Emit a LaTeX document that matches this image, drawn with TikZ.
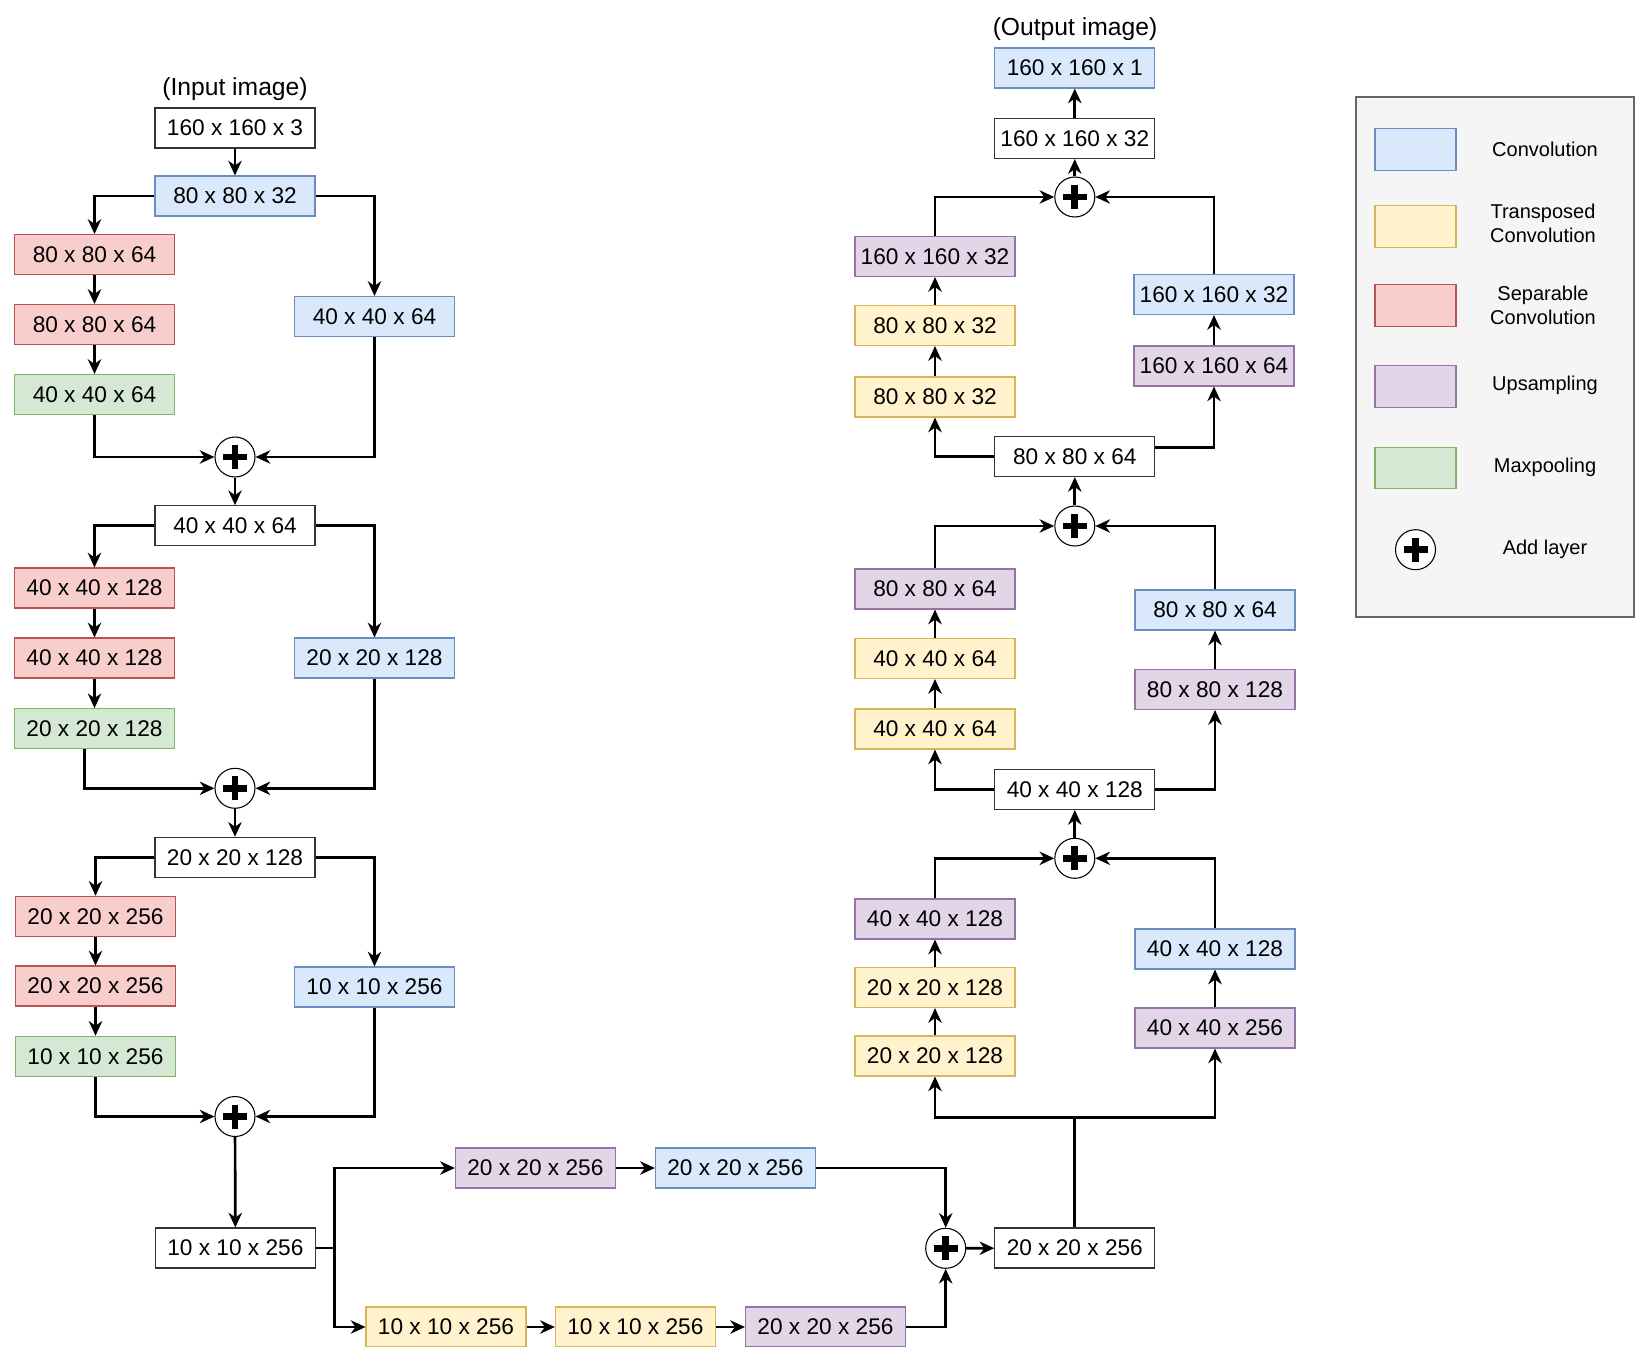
\documentclass[tikz,border=0pt]{standalone}
\usepackage{fontspec}
\setmainfont{Liberation Sans}
\usetikzlibrary{arrows.meta}
\definecolor{bluefill}{HTML}{DAE8FC}\definecolor{bluedraw}{HTML}{6C8EBF}
\definecolor{yelfill}{HTML}{FFF2CC}\definecolor{yeldraw}{HTML}{D6B656}
\definecolor{redfill}{HTML}{F8CECC}\definecolor{reddraw}{HTML}{B85450}
\definecolor{purfill}{HTML}{E1D5E7}\definecolor{purdraw}{HTML}{9673A6}
\definecolor{grnfill}{HTML}{D5E8D4}\definecolor{grndraw}{HTML}{82B366}
\definecolor{boxgray}{HTML}{333333}
\definecolor{legfill}{HTML}{F5F5F5}\definecolor{legdraw}{HTML}{666666}
\begin{document}
\begin{tikzpicture}[x=0.75pt,y=-0.75pt,
  lyr/.style={draw=#1, minimum width=120pt, minimum height=30pt, inner sep=0pt, line width=0.8pt, font=\fontsize{17}{20}\selectfont},
  conv/.style={lyr=bluedraw, fill=bluefill},
  tconv/.style={lyr=yeldraw, fill=yelfill},
  sconv/.style={lyr=reddraw, fill=redfill},
  upsm/.style={lyr=purdraw, fill=purfill},
  mpool/.style={lyr=grndraw, fill=grnfill},
  plain/.style={lyr=boxgray, fill=white},
  swatch/.style={draw=#1, minimum width=60.75pt, minimum height=31pt, inner sep=0pt, line width=0.8pt},
  legtext/.style={font=\fontsize{15}{18}\selectfont, align=center},
  lbl/.style={font=\fontsize{18.5}{21}\selectfont},
  addl/.style={circle, draw, fill=white, line width=0.8pt, minimum size=30pt, inner sep=0pt,
    path picture={
      \draw[line width=5pt] ([xshift=-9pt]path picture bounding box.center) -- ([xshift=9pt]path picture bounding box.center);
      \draw[line width=5pt] ([yshift=-9pt]path picture bounding box.center) -- ([yshift=9pt]path picture bounding box.center);
    }},
  conn/.style={line width=2pt, -{Stealth[length=11pt,width=10pt,inset=3.5pt]}},
  wire/.style={line width=2pt},
]
\useasboundingbox (0,0) rectangle (1635,1346);

% ---------------- encoder (left) ----------------
\node[lbl] (inlbl) at (235,89) {(Input image)};
\node[plain] (n1) at (235,128) {160 x 160 x 3};
\node[conv] (n2) at (235,196) {80 x 80 x 32};
\node[sconv] (n3) at (94.5,254.5) {80 x 80 x 64};
\node[sconv] (n4) at (94.5,324.5) {80 x 80 x 64};
\node[mpool] (n5) at (94.5,394.5) {40 x 40 x 64};
\node[conv] (n6) at (374.5,316.5) {40 x 40 x 64};
\node[addl] (a1) at (235,457) {};
\node[plain] (n7) at (235,525.7) {40 x 40 x 64};
\node[sconv] (n8) at (94.5,588) {40 x 40 x 128};
\node[sconv] (n9) at (94.5,658) {40 x 40 x 128};
\node[mpool] (n10) at (94.5,728.7) {20 x 20 x 128};
\node[conv] (n11) at (374.5,658) {20 x 20 x 128};
\node[addl] (a2) at (235,788.3) {};
\node[plain] (n12) at (235,857.3) {20 x 20 x 128};
\node[sconv] (n13) at (95.5,916.3) {20 x 20 x 256};
\node[sconv] (n14) at (95.5,986) {20 x 20 x 256};
\node[mpool] (n15) at (95.5,1056.3) {10 x 10 x 256};
\node[conv] (n16) at (374.5,987) {10 x 10 x 256};
\node[addl] (a3) at (235,1116.5) {};
\node[plain] (n17) at (235.4,1248) {10 x 10 x 256};

% ---------------- bottleneck ----------------
\node[upsm] (n18) at (535.4,1168) {20 x 20 x 256};
\node[conv] (n19) at (735.4,1168) {20 x 20 x 256};
\node[tconv] (n20) at (446,1327) {10 x 10 x 256};
\node[tconv] (n21) at (635.4,1327) {10 x 10 x 256};
\node[upsm] (n22) at (825.5,1327) {20 x 20 x 256};
\node[addl] (a4) at (945.7,1248.3) {};
\node[plain] (n23) at (1074.8,1248) {20 x 20 x 256};
\coordinate (br) at (334.4,1248);
\coordinate (j1) at (1074.8,1117.3);

% ---------------- decoder (right) ----------------
\node[tconv] (n24) at (935,1056) {20 x 20 x 128};
\node[tconv] (n25) at (935,987.5) {20 x 20 x 128};
\node[upsm] (n26) at (935,919) {40 x 40 x 128};
\node[upsm] (n27) at (1215,1028) {40 x 40 x 256};
\node[conv] (n28) at (1215,949) {40 x 40 x 128};
\node[addl] (a5) at (1074.8,858.3) {};
\node[plain] (n29) at (1074.8,789.5) {40 x 40 x 128};
\node[tconv] (n30) at (935,729) {40 x 40 x 64};
\node[tconv] (n31) at (935,658.5) {40 x 40 x 64};
\node[upsm] (n32) at (935,589) {80 x 80 x 64};
\node[upsm] (n33) at (1215,689.5) {80 x 80 x 128};
\node[conv] (n34) at (1215,610) {80 x 80 x 64};
\node[addl] (a6) at (1074.8,526) {};
\node[plain] (n35) at (1074.8,456.5) {80 x 80 x 64};
\node[tconv] (n36) at (935,397) {80 x 80 x 32};
\node[tconv] (n37) at (935,325.5) {80 x 80 x 32};
\node[upsm] (n38) at (935,256.5) {160 x 160 x 32};
\node[upsm] (n39) at (1214,366) {160 x 160 x 64};
\node[conv] (n40) at (1214,294.5) {160 x 160 x 32};
\node[addl] (a7) at (1074.8,197) {};
\node[plain] (n41) at (1074.8,138.5) {160 x 160 x 32};
\node[conv] (n42) at (1074.8,68) {160 x 160 x 1};
\node[lbl] (outlbl) at (1075,29) {(Output image)};

% ---------------- connectors: encoder ----------------
\draw[conn] (n1) -- (n2);
\draw[conn] (n2.west) -| (n3.north);
\draw[conn] (n2.east) -| (n6.north);
\draw[conn] (n3) -- (n4);
\draw[conn] (n4) -- (n5);
\draw[conn] (n5.south) |- (a1.west);
\draw[conn] (n6.south) |- (a1.east);
\draw[conn] (a1) -- (n7);
\draw[conn] (n7.west) -| (n8.north);
\draw[conn] (n7.east) -| (n11.north);
\draw[conn] (n8) -- (n9);
\draw[conn] (n9) -- (n10);
\draw[conn] ([xshift=-7.6pt]n10.south) |- (a2.west);
\draw[conn] (n11.south) |- (a2.east);
\draw[conn] (a2) -- (n12);
\draw[conn] (n12.west) -| (n13.north);
\draw[conn] (n12.east) -| (n16.north);
\draw[conn] (n13) -- (n14);
\draw[conn] (n14) -- (n15);
\draw[conn] (n15.south) |- (a3.west);
\draw[conn] (n16.south) |- (a3.east);
\draw[conn] (a3) -- (n17);

% ---------------- connectors: bottleneck ----------------
\draw[wire] (n17.east) -- (br);
\draw[conn] (br) |- (n18.west);
\draw[conn] (br) |- (n20.west);
\draw[conn] (n18) -- (n19);
\draw[conn] (n20) -- (n21);
\draw[conn] (n21) -- (n22);
\draw[conn] (n19.east) -| (a4.north);
\draw[conn] (n22.east) -| (a4.south);
\draw[conn] (a4) -- (n23);

% ---------------- connectors: decoder ----------------
\draw[wire] (n23.north) -- (j1);
\draw[conn] (j1) -| (n24.south);
\draw[conn] (j1) -| (n27.south);
\draw[conn] (n24) -- (n25);
\draw[conn] (n25) -- (n26);
\draw[conn] (n27) -- (n28);
\draw[conn] (n26.north) |- (a5.west);
\draw[conn] (n28.north) |- (a5.east);
\draw[conn] (a5) -- (n29);
\draw[conn] (n29.west) -| (n30.south);
\draw[conn] (n29.east) -| (n33.south);
\draw[conn] (n30) -- (n31);
\draw[conn] (n31) -- (n32);
\draw[conn] (n33) -- (n34);
\draw[conn] (n32.north) |- (a6.west);
\draw[conn] (n34.north) |- (a6.east);
\draw[conn] (a6) -- (n35);
\draw[conn] (n35.west) -| (n36.south);
\draw[conn] ([yshift=7pt]n35.east) -| (n39.south);
\draw[conn] (n36) -- (n37);
\draw[conn] (n37) -- (n38);
\draw[conn] (n39) -- (n40);
\draw[conn] (n38.north) |- (a7.west);
\draw[conn] (n40.north) |- (a7.east);
\draw[conn] (a7) -- (n41);
\draw[conn] (n41) -- (n42);

% ---------------- legend ----------------
\draw[draw=legdraw, fill=legfill, line width=2.2pt] (1356,97) rectangle (1634,617);
\node[swatch=bluedraw, fill=bluefill] (lg1) at (1415.5,149.5) {};
\node[swatch=yeldraw, fill=yelfill] (lg2) at (1415.5,226.6) {};
\node[swatch=reddraw, fill=redfill] (lg3) at (1415.5,305.4) {};
\node[swatch=purdraw, fill=purfill] (lg4) at (1415.5,386.5) {};
\node[swatch=grndraw, fill=grnfill] (lg5) at (1415.5,468) {};
\node[addl] (lg6) at (1415.5,549.7) {};
\node[legtext] (lt1) at (1545,149.2) {Convolution};
\node[legtext] (lt2) at (1543,223.8) {Transposed\\Convolution};
\node[legtext] (lt3) at (1543,305) {Separable\\Convolution};
\node[legtext] (lt4) at (1545,385.1) {Upsampling};
\node[legtext] (lt5) at (1545,467) {Maxpooling};
\node[legtext] (lt6) at (1545,549) {Add layer};
\end{tikzpicture}
\end{document}
